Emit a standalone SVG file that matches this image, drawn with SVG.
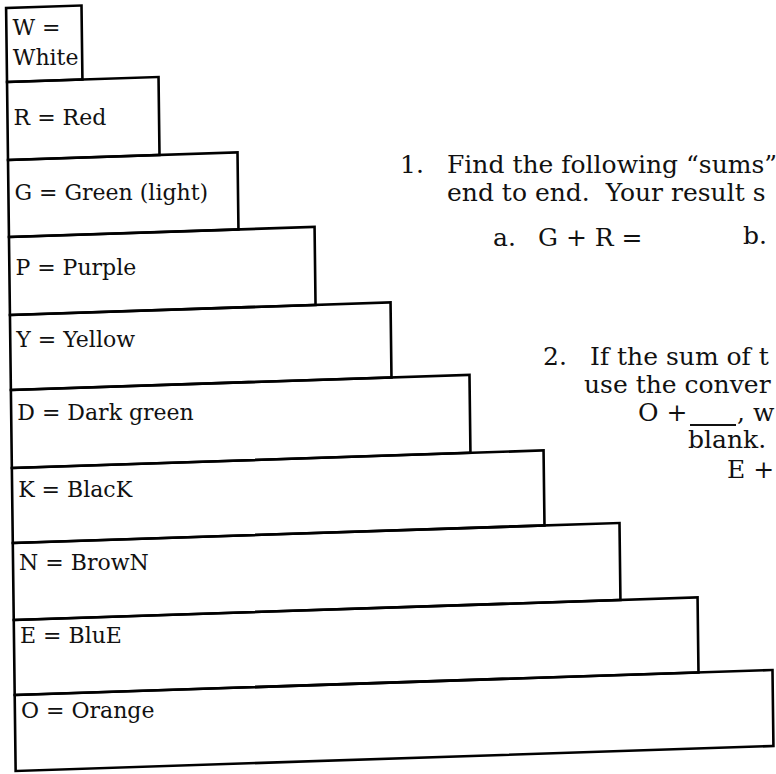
<svg xmlns="http://www.w3.org/2000/svg" width="776" height="774" viewBox="0 0 776 774">
<style>
.rod{fill:none;stroke:#000;stroke-width:2.6;stroke-linejoin:miter}
.lbl{font-family:"DejaVu Serif","Liberation Serif",serif;font-size:22px;fill:#111}
.txt{font-family:"DejaVu Serif","Liberation Serif",serif;font-size:25px;fill:#111}
</style>
<rect x="0" y="0" width="776" height="774" fill="#fff"/>
<g id="connectors"/>
<g id="node-W"><rect class="rod" x="0" y="8" width="75.4" height="74" transform="matrix(1 -0.033 0.0125 1 6 0)"/><text class="lbl" x="12.4" y="35">W =</text><text class="lbl" x="12.8" y="65">White</text></g>
<g id="node-R"><rect class="rod" x="0" y="82" width="151.5" height="78" transform="matrix(1 -0.033 0.0125 1 6 0)"/><text class="lbl" x="13.6" y="125">R = Red</text></g>
<g id="node-G"><rect class="rod" x="0" y="160" width="229.5" height="77" transform="matrix(1 -0.033 0.0125 1 6 0)"/><text class="lbl" x="14.5" y="200">G = Green (light)</text></g>
<g id="node-P"><rect class="rod" x="0" y="237" width="305.6" height="78" transform="matrix(1 -0.033 0.0125 1 6 0)"/><text class="lbl" x="15.4" y="275">P = Purple</text></g>
<g id="node-Y"><rect class="rod" x="0" y="315" width="380.6" height="75" transform="matrix(1 -0.033 0.0125 1 6 0)"/><text class="lbl" x="16.3" y="347">Y = Yellow</text></g>
<g id="node-D"><rect class="rod" x="0" y="390" width="458.6" height="78" transform="matrix(1 -0.033 0.0125 1 6 0)"/><text class="lbl" x="17.3" y="420">D = Dark green</text></g>
<g id="node-K"><rect class="rod" x="0" y="468" width="531.7" height="75" transform="matrix(1 -0.033 0.0125 1 6 0)"/><text class="lbl" x="18.2" y="497">K = BlacK</text></g>
<g id="node-N"><rect class="rod" x="0" y="543" width="606.7" height="77" transform="matrix(1 -0.033 0.0125 1 6 0)"/><text class="lbl" x="19.1" y="570">N = BrowN</text></g>
<g id="node-E"><rect class="rod" x="0" y="620" width="683.8" height="75" transform="matrix(1 -0.033 0.0125 1 6 0)"/><text class="lbl" x="20" y="643">E = BluE</text></g>
<g id="node-O"><rect class="rod" x="0" y="695" width="757.8" height="76" transform="matrix(1 -0.033 0.0125 1 6 0)"/><text class="lbl" x="21" y="718">O = Orange</text></g>
<g id="questions">
<text class="txt" x="400" y="173">1.</text>
<text class="txt" x="447" y="173">Find the following “sums”</text>
<text class="txt" x="447" y="201" xml:space="preserve">end to end.  Your result s</text>
<text class="txt" x="493" y="246">a.</text>
<text class="txt" x="538" y="246">G + R =</text>
<text class="txt" x="743" y="244">b.</text>
<text class="txt" x="543" y="365">2.</text>
<text class="txt" x="590" y="365">If the sum of t</text>
<text class="txt" x="584" y="393">use the conver</text>
<text class="txt" x="638" y="421">O +</text>
<line x1="690" y1="425" x2="736" y2="425" stroke="#111" stroke-width="2"/>
<text class="txt" x="737" y="421">, w</text>
<text class="txt" x="688" y="448">blank.</text>
<text class="txt" x="727" y="478">E +</text>
</g>
</svg>
